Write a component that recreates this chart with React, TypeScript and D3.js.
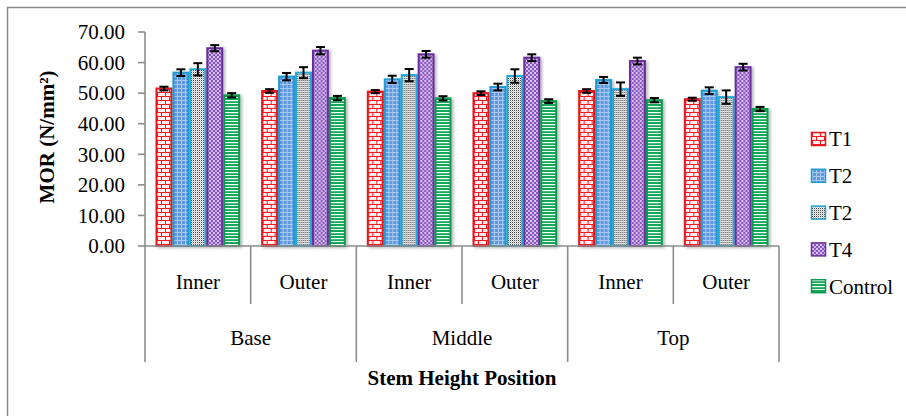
import * as d3 from "d3"

// chart values
const positions = ["Base", "Middle", "Top"]
const sections = ["Inner", "Outer"]
const seriesKeys = ["T1", "T2", "T3", "T4", "Control"]
const seriesLabels = ["T1", "T2", "T2", "T4", "Control"]
const yTicks = [0, 10, 20, 30, 40, 50, 60, 70]

// order: Base Inner, Base Outer, Middle Inner, Middle Outer, Top Inner, Top Outer
const t1Values = [51.5, 50.7, 50.5, 50.0, 50.7, 48.0]
const t2Values = [56.7, 55.4, 54.5, 52.0, 54.3, 50.8]
const t3Values = [57.8, 56.7, 55.9, 55.6, 51.3, 48.7]
const t4Values = [64.7, 63.9, 62.7, 61.6, 60.5, 58.5]
const controlValues = [49.3, 48.4, 48.3, 47.4, 47.7, 44.8]

const t1Err = [0.6, 0.6, 0.5, 0.6, 0.6, 0.5]
const t2Err = [1.1, 1.2, 1.2, 1.1, 1.0, 1.1]
const t3Err = [2.0, 1.8, 2.0, 2.2, 2.2, 2.2]
const t4Err = [1.0, 1.2, 1.1, 1.1, 1.1, 1.1]
const controlErr = [0.7, 0.7, 0.7, 0.6, 0.7, 0.7]

const values = [t1Values, t2Values, t3Values, t4Values, controlValues]
const errors = [t1Err, t2Err, t3Err, t4Err, controlErr]

const strokes = ["#e8141c", "#1f9bd1", "#22a7d6", "#6a2e9a", "#0f9a50"]

const FONT = "Liberation Serif, Times New Roman, DejaVu Serif, serif"
const AXIS = "#8c8c8c"

export default function App() {
  const left = 145
  const right = 779
  const y = d3.scaleLinear().domain([0, 70]).range([246, 32])

  const cats = positions.flatMap((p) => sections.map((s) => `${p}-${s}`))
  const x = d3.scaleBand().domain(cats).range([left, right]).padding(0)
  const xs = d3
    .scaleBand()
    .domain(seriesKeys)
    .range([0, x.bandwidth()])
    .paddingInner(0)
    .paddingOuter(0.62)
  const groupW = x.bandwidth() * sections.length

  const base = y(0)
  const labelRowY = 289
  const groupRowY = 345
  const txt = { fontFamily: FONT, fontSize: "21px" }

  return (
    <svg
      width={906}
      height={416}
      style={{ position: "absolute", left: 0, top: 0, background: "#fff", fontFamily: FONT }}
    >
      <defs>
        <filter id="shadow" x="-20%" y="-5%" width="150%" height="115%">
          <feDropShadow dx="2" dy="1" stdDeviation="1.4" floodColor="#000" floodOpacity="0.28" />
        </filter>
        <pattern id="p-T1" width="8" height="8" patternUnits="userSpaceOnUse">
          <rect width="8" height="8" fill="#ffeeee" />
          <path d="M0 0.5H8M0 4.5H8M0.5 0V4.5M4.5 4.5V8" stroke="#ee1c24" strokeWidth="1" />
        </pattern>
        <pattern id="p-T2" width="4" height="4" patternUnits="userSpaceOnUse">
          <rect width="4" height="4" fill="#5f98df" />
          <path d="M0 0.5H4M0.5 0V4" stroke="#a9c9f1" strokeWidth="1" />
        </pattern>
        <pattern id="p-T3" width="2" height="2" patternUnits="userSpaceOnUse">
          <rect width="2" height="2" fill="#f4f4f4" />
          <rect x="0" y="0" width="1" height="1" fill="#444" />
          <rect x="1" y="1" width="1" height="1" fill="#c8c8c8" />
        </pattern>
        <pattern id="p-T4" width="4" height="4" patternUnits="userSpaceOnUse">
          <rect width="4" height="4" fill="#8a55bf" />
          <rect x="0" y="0" width="2" height="2" fill="#d9c6ee" />
          <rect x="2" y="2" width="2" height="2" fill="#c9b0e6" />
        </pattern>
        <pattern id="p-Control" width="6" height="6" patternUnits="userSpaceOnUse">
          <rect width="6" height="6" fill="#15a85a" />
          <rect y="1" width="6" height="1" fill="#e9f7ee" />
          <rect y="4" width="6" height="1.2" fill="#ffffff" />
        </pattern>
      </defs>

      {/* outer chart border */}
      <path d="M7.5 416V7.5H906" fill="none" stroke="#8a8a8a" strokeWidth="1.5" />

      {/* bars */}
      {cats.map((c, ci) => (
        <g key={c} transform={`translate(${x(c)},0)`}>
          {seriesKeys.map((k, si) => {
            const v = values[si][ci]
            const e = errors[si][ci]
            const bx = xs(k) as number
            const bw = xs.bandwidth()
            const cx = bx + bw / 2
            return (
              <g key={k}>
                <rect
                  x={bx + 1}
                  y={y(v)}
                  width={bw - 2}
                  height={base - y(v)}
                  fill={`url(#p-${k})`}
                  stroke={strokes[si]}
                  strokeWidth={2}
                  filter="url(#shadow)"
                />
                <g stroke="#000" strokeWidth={2}>
                  <line x1={cx} x2={cx} y1={y(v - e)} y2={y(v + e)} />
                  <line x1={cx - 4.5} x2={cx + 4.5} y1={y(v - e)} y2={y(v - e)} />
                  <line x1={cx - 4.5} x2={cx + 4.5} y1={y(v + e)} y2={y(v + e)} />
                </g>
              </g>
            )
          })}
        </g>
      ))}

      {/* y axis */}
      <line x1={left} x2={left} y1={y(70)} y2={362} stroke={AXIS} strokeWidth={1.6} />
      {yTicks.map((t) => (
        <g key={t}>
          <line x1={left - 7} x2={left} y1={y(t)} y2={y(t)} stroke={AXIS} strokeWidth={1.6} />
          <text x={left - 20} y={y(t)} dy="0.35em" textAnchor="end" style={txt} fill="#000">
            {d3.format(".2f")(t)}
          </text>
        </g>
      ))}
      <text
        transform={`translate(47,137) rotate(-90)`}
        textAnchor="middle"
        dy="0.35em"
        style={{ ...txt, fontWeight: "bold" }}
      >
        MOR (N/mm²)
      </text>

      {/* x axis, multi-level */}
      <line x1={left} x2={right} y1={base} y2={base} stroke={AXIS} strokeWidth={1.6} />
      {cats.map((c, ci) => {
        const xr = (x(c) as number) + x.bandwidth()
        const long = ci % 2 === 1
        return (
          <line
            key={c}
            x1={xr}
            x2={xr}
            y1={base}
            y2={long ? 362 : 304}
            stroke={AXIS}
            strokeWidth={1.6}
          />
        )
      })}
      {cats.map((c, ci) => (
        <text
          key={c}
          x={(x(c) as number) + x.bandwidth() / 2}
          y={labelRowY}
          textAnchor="middle"
          style={txt}
        >
          {sections[ci % 2]}
        </text>
      ))}
      {positions.map((p, pi) => (
        <text key={p} x={left + groupW * pi + groupW / 2} y={groupRowY} textAnchor="middle" style={txt}>
          {p}
        </text>
      ))}
      <text x={(left + right) / 2} y={385} textAnchor="middle" style={{ ...txt, fontWeight: "bold" }}>
        Stem Height Position
      </text>

      {/* legend */}
      {seriesKeys.map((k, si) => {
        const cy = 139 + si * 36.8
        return (
          <g key={k}>
            <rect
              x={811.5}
              y={cy - 6.5}
              width={14}
              height={13}
              fill={`url(#p-${k})`}
              stroke={strokes[si]}
              strokeWidth={1.5}
            />
            <text x={829} y={cy} dy="0.35em" style={txt}>
              {seriesLabels[si]}
            </text>
          </g>
        )
      })}
    </svg>
  )
}
